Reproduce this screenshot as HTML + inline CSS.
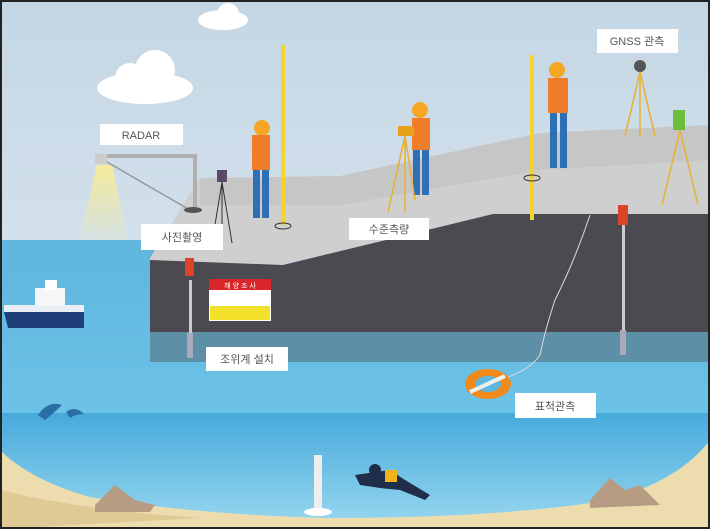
<!DOCTYPE html>
<html><head><meta charset="utf-8"><style>
html,body{margin:0;padding:0;background:#fff}
svg{display:block}
text{font-family:"Liberation Sans","Noto Sans CJK KR",sans-serif;font-size:11px;fill:#555;text-anchor:middle}
</style></head><body>
<svg width="710" height="529" viewBox="0 0 710 529" xmlns="http://www.w3.org/2000/svg">
<defs>
<linearGradient id="sky" x1="0" y1="0" x2="0" y2="1"><stop offset="0" stop-color="#c4d6e4"/><stop offset="1" stop-color="#e4edf4"/></linearGradient>
<linearGradient id="sea" x1="0" y1="0" x2="0" y2="1"><stop offset="0" stop-color="#5fb6de"/><stop offset="1" stop-color="#6cc2e6"/></linearGradient>
<linearGradient id="deep" x1="0" y1="0" x2="0" y2="1"><stop offset="0" stop-color="#46aadb"/><stop offset="1" stop-color="#9ad8f0"/></linearGradient>
<linearGradient id="beam" x1="0" y1="0" x2="0" y2="1"><stop offset="0" stop-color="#f4ec9a"/><stop offset="1" stop-color="#f4ec9a" stop-opacity="0.1"/></linearGradient>
</defs>
<rect width="710" height="529" fill="url(#sky)"/>
<rect x="0" y="240" width="710" height="175" fill="url(#sea)"/>
<rect x="0" y="413" width="710" height="116" fill="url(#deep)"/>
<path d="M0,450 Q30,480 90,497 Q200,515 330,518 Q500,518 610,500 Q680,480 710,440 L710,529 L0,529Z" fill="#ecdcae"/>
<path d="M0,490 Q80,510 200,518 L0,529Z" fill="#dfc995"/>
<g fill="#fff"><ellipse cx="145" cy="88" rx="48" ry="16"/><circle cx="130" cy="78" r="15"/><circle cx="155" cy="70" r="20"/><ellipse cx="223" cy="20" rx="25" ry="10"/><circle cx="228" cy="14" r="11"/></g>
<path d="M97,165 L112,165 L128,240 L80,240Z" fill="url(#beam)"/>
<path d="M150,258 L200,178 L340,176 L540,133 L710,125 L710,214 L493,214 L283,265 L150,265Z" fill="#cfcfcf"/>
<path d="M200,178 L340,176 L540,133 L710,125 L710,160 L540,170 L340,205 L200,205Z" fill="#bdbdbd" opacity="0.5"/>
<path d="M150,260 L283,265 L493,214 L710,214 L710,332 L150,332Z" fill="#4a4a50"/>
<rect x="150" y="332" width="560" height="30" fill="#5d8fa6"/>
<g stroke="#b0b0b0" stroke-width="4" fill="none"><path d="M97,156 L195,156 L195,210"/></g>
<line x1="100" y1="158" x2="190" y2="210" stroke="#999" stroke-width="1.5"/>
<rect x="95" y="154" width="12" height="10" fill="#ccc"/>
<ellipse cx="193" cy="210" rx="9" ry="3" fill="#555"/>
<rect x="217" y="170" width="10" height="12" fill="#5a4a6a"/>
<g stroke="#333" stroke-width="1"><line x1="222" y1="182" x2="212" y2="243"/><line x1="222" y1="182" x2="232" y2="243"/><line x1="222" y1="182" x2="222" y2="243"/></g>
<rect x="281" y="45" width="4" height="180" fill="#f3d42a"/>
<ellipse cx="283" cy="226" rx="8" ry="3" fill="none" stroke="#333"/>
<rect x="530" y="55" width="4" height="165" fill="#f3d42a"/>
<ellipse cx="532" cy="178" rx="8" ry="3" fill="none" stroke="#333"/>
<g>
<circle cx="262" cy="128" r="8" fill="#f5a623"/><rect x="252" y="135" width="18" height="35" fill="#ef7d2a"/><rect x="253" y="170" width="7" height="48" fill="#2e6fb5"/><rect x="262" y="170" width="7" height="48" fill="#2e6fb5"/>
<circle cx="420" cy="110" r="8" fill="#f5a623"/><rect x="412" y="118" width="18" height="32" fill="#ef7d2a"/><rect x="413" y="150" width="7" height="45" fill="#2e6fb5"/><rect x="422" y="150" width="7" height="45" fill="#2e6fb5"/>
<circle cx="557" cy="70" r="8" fill="#f5a623"/><rect x="548" y="78" width="20" height="35" fill="#ef7d2a"/><rect x="550" y="113" width="7" height="55" fill="#2e6fb5"/><rect x="560" y="113" width="7" height="55" fill="#2e6fb5"/>
</g>
<rect x="398" y="126" width="16" height="10" fill="#e8a21a"/>
<g stroke="#e8b030" stroke-width="1.5"><line x1="405" y1="136" x2="388" y2="212"/><line x1="405" y1="136" x2="405" y2="212"/><line x1="405" y1="136" x2="415" y2="200"/></g>
<circle cx="640" cy="66" r="6" fill="#555"/>
<g stroke="#e8b030" stroke-width="1.5"><line x1="640" y1="72" x2="625" y2="136"/><line x1="640" y1="72" x2="655" y2="136"/><line x1="640" y1="72" x2="640" y2="136"/>
<line x1="680" y1="130" x2="662" y2="205"/><line x1="680" y1="130" x2="698" y2="205"/></g>
<rect x="673" y="110" width="12" height="20" fill="#6cbf3c"/>
<rect x="189" y="280" width="3" height="75" fill="#ccc"/><rect x="185" y="258" width="9" height="18" fill="#d9442a"/><rect x="187" y="333" width="6" height="25" fill="#aab"/>
<rect x="622" y="225" width="3" height="130" fill="#ccc"/><rect x="618" y="205" width="10" height="20" fill="#d9442a"/><rect x="620" y="330" width="6" height="25" fill="#aab"/>
<rect x="209" y="279" width="62" height="42" fill="#fff"/><rect x="209" y="279" width="62" height="11" fill="#d9262a"/>
<text x="240" y="288" style="font-size:7px;fill:#fff">해 양 조 사</text>
<rect x="210" y="306" width="60" height="14" fill="#f3e02a"/>
<path d="M590,215 Q575,260 555,300 Q545,330 540,355 Q530,370 505,378" stroke="#ddd" fill="none"/>
<ellipse cx="488" cy="384" rx="23" ry="15" fill="#f08a1c"/><ellipse cx="488" cy="384" rx="13" ry="8" fill="#5fb6de"/>
<line x1="470" y1="392" x2="505" y2="376" stroke="#eee" stroke-width="4"/>
<path d="M4,312 L84,312 L84,328 L8,328Z" fill="#1f3f7a"/><rect x="4" y="305" width="80" height="7" fill="#e8eef4"/><rect x="35" y="288" width="30" height="18" fill="#f4f6f8"/><rect x="45" y="280" width="12" height="10" fill="#fff"/>
<path d="M38,415 Q48,400 62,405 Q55,412 45,420Z" fill="#2a6ea6"/><path d="M66,412 Q75,405 84,414 Q76,414 70,418Z" fill="#2a6ea6"/>
<rect x="314" y="455" width="8" height="55" fill="#eee"/><ellipse cx="318" cy="512" rx="14" ry="4" fill="#fff"/>
<path d="M355,475 L390,470 L405,480 L430,495 L425,500 L400,490 L380,488 L360,485Z" fill="#1f2f4a"/><rect x="385" y="470" width="12" height="12" fill="#f3b31a"/>
<circle cx="375" cy="470" r="6" fill="#1f2f4a"/>
<path d="M95,505 L115,485 L135,500 L155,505 L150,512 L95,512Z" fill="#b79c84"/>
<path d="M590,500 L610,478 L625,490 L640,485 L660,505 L590,508Z" fill="#b79c84"/>
<g fill="#fff"><rect x="100" y="124" width="83" height="21"/><rect x="141" y="224" width="82" height="26"/><rect x="349" y="218" width="80" height="22"/><rect x="597" y="29" width="81" height="24"/><rect x="206" y="347" width="82" height="24"/><rect x="515" y="393" width="81" height="25"/></g>
<text x="141" y="139">RADAR</text>
<text x="182" y="241">사진촬영</text>
<text x="389" y="233">수준측량</text>
<text x="637" y="45">GNSS 관측</text>
<text x="247" y="363">조위계 설치</text>
<text x="555" y="410">표척관측</text>
<rect x="1" y="1" width="708" height="527" fill="none" stroke="#222" stroke-width="2"/>
</svg>
</body></html>
